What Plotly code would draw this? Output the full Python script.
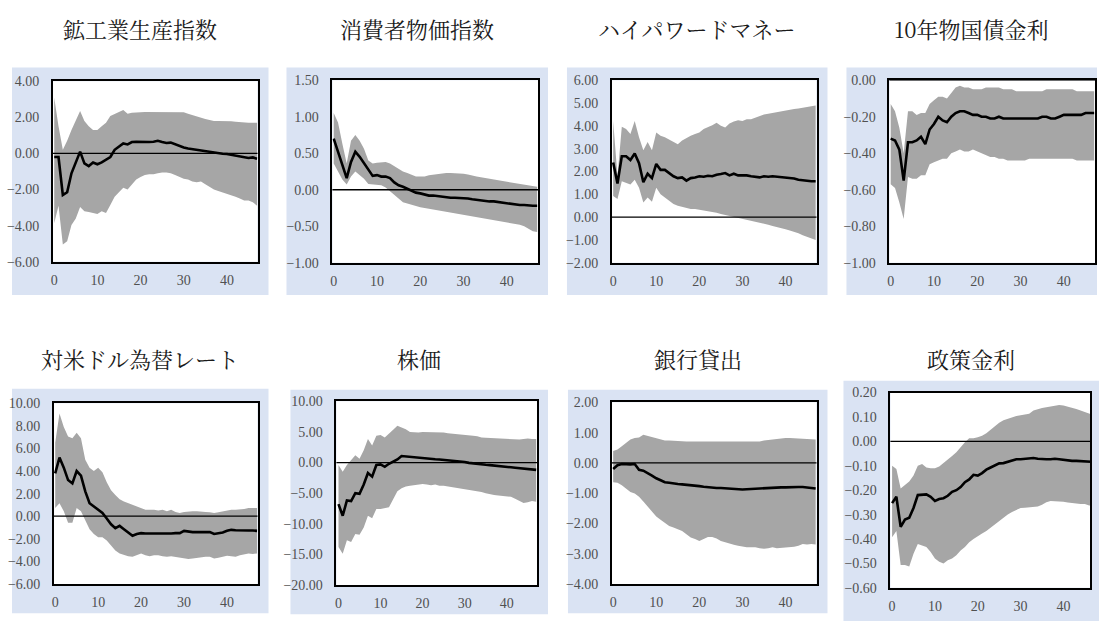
import plotly.graph_objects as go

# Horizon (months after the shock)
horizon = list(range(48))

titles = ["鉱工業生産指数", "消費者物価指数", "ハイパワードマネー", "10年物国債金利",
          "対米ドル為替レート", "株価", "銀行貸出", "政策金利"]

# ---- 鉱工業生産指数 ----
ip_mid = [-0.2, -0.2, -2.3, -2.15, -1.1, -0.55, 0.1, -0.55, -0.7, -0.5, -0.6, -0.5,
          -0.35, -0.2, 0.2, 0.4, 0.55, 0.5, 0.63, 0.65, 0.63, 0.62, 0.63, 0.65,
          0.7, 0.63, 0.58, 0.6, 0.5, 0.4, 0.33, 0.27, 0.23, 0.18, 0.15, 0.12,
          0.1, 0.05, 0.0, -0.02, -0.03, -0.07, -0.1, -0.15, -0.2, -0.25, -0.22, -0.3]
ip_hi = [3.1, 1.5, 0.2, 0.7, 1.3, 1.8, 2.35, 1.8, 1.5, 1.3, 1.3, 1.5,
         1.7, 2.07, 2.2, 2.3, 2.4, 2.2, 2.25, 2.25, 2.28, 2.3, 2.3, 2.3,
         2.3, 2.32, 2.32, 2.3, 2.3, 2.3, 2.28, 2.2, 2.12, 2.05, 1.98, 1.9,
         1.85, 1.8, 1.8, 1.8, 1.8, 1.78, 1.75, 1.72, 1.7, 1.7, 1.7, 1.7]
ip_lo = [-3.87, -2.9, -5.05, -4.86, -3.96, -3.6, -2.97, -3.2, -3.25, -3.3, -3.35, -3.2,
         -3.3, -2.85, -2.4, -2.15, -1.9, -2.0, -1.7, -1.45, -1.3, -1.2, -1.15, -1.15,
         -1.1, -1.05, -1.05, -1.1, -1.2, -1.3, -1.4, -1.45, -1.55, -1.6, -1.55, -1.7,
         -1.85, -2.0, -2.08, -2.15, -2.25, -2.32, -2.4, -2.5, -2.6, -2.6, -2.7, -2.9]

# ---- 消費者物価指数 ----
cpi_mid = [0.70, 0.52, 0.34, 0.16, 0.38, 0.52, 0.45, 0.36, 0.27, 0.19, 0.20, 0.18,
           0.18, 0.16, 0.10, 0.06, 0.04, 0.01, -0.02, -0.04, -0.05, -0.07, -0.08, -0.08,
           -0.09, -0.09, -0.10, -0.11, -0.11, -0.11, -0.11, -0.12, -0.13, -0.14, -0.14, -0.15,
           -0.16, -0.16, -0.17, -0.18, -0.19, -0.20, -0.20, -0.21, -0.21, -0.22, -0.22, -0.22]
cpi_hi = [1.05, 0.92, 0.63, 0.36, 0.67, 0.75, 0.67, 0.56, 0.40, 0.36, 0.37, 0.37,
          0.38, 0.36, 0.32, 0.28, 0.25, 0.23, 0.20, 0.18, 0.18, 0.18, 0.20, 0.21,
          0.22, 0.23, 0.23, 0.23, 0.23, 0.23, 0.22, 0.21, 0.19, 0.18, 0.17, 0.16,
          0.15, 0.14, 0.13, 0.12, 0.11, 0.10, 0.08, 0.07, 0.06, 0.05, 0.04, 0.04]
cpi_lo = [0.36, 0.25, 0.14, 0.07, 0.18, 0.25, 0.20, 0.15, 0.08, 0.07, 0.07, 0.06,
          0.03, -0.02, -0.08, -0.13, -0.17, -0.19, -0.21, -0.23, -0.24, -0.25, -0.26, -0.27,
          -0.29, -0.30, -0.31, -0.32, -0.33, -0.33, -0.34, -0.35, -0.36, -0.37, -0.38, -0.39,
          -0.40, -0.41, -0.42, -0.43, -0.44, -0.45, -0.46, -0.48, -0.50, -0.53, -0.57, -0.58]

# ---- ハイパワードマネー ----
mb_mid = [2.39, 1.47, 2.67, 2.67, 2.50, 2.79, 2.36, 1.53, 1.90, 1.71, 2.33, 2.07,
          2.07, 1.93, 1.79, 1.71, 1.74, 1.60, 1.71, 1.74, 1.79, 1.77, 1.81, 1.79,
          1.86, 1.89, 1.93, 1.83, 1.90, 1.83, 1.83, 1.83, 1.79, 1.77, 1.74, 1.79,
          1.77, 1.79, 1.77, 1.74, 1.74, 1.71, 1.69, 1.64, 1.61, 1.57, 1.57, 1.57]
mb_hi = [4.21, 1.79, 3.96, 3.86, 3.64, 4.21, 3.50, 2.93, 3.29, 2.93, 3.71, 3.57,
         3.50, 3.39, 3.29, 3.19, 3.36, 3.47, 3.57, 3.64, 3.71, 3.86, 3.93, 4.03,
         4.14, 4.00, 3.93, 4.10, 4.19, 4.24, 4.21, 4.29, 4.29, 4.36, 4.43, 4.50,
         4.53, 4.57, 4.60, 4.64, 4.67, 4.71, 4.74, 4.76, 4.79, 4.81, 4.86, 4.89]
mb_lo = [0.93, 0.79, 1.57, 1.50, 1.43, 1.64, 1.29, 0.64, 0.86, 0.67, 1.29, 1.00,
         0.86, 0.71, 0.57, 0.50, 0.46, 0.40, 0.36, 0.36, 0.33, 0.29, 0.26, 0.21,
         0.19, 0.14, 0.10, 0.04, 0.00, -0.03, -0.07, -0.11, -0.14, -0.19, -0.23, -0.29,
         -0.33, -0.39, -0.43, -0.47, -0.53, -0.59, -0.64, -0.71, -0.79, -0.86, -0.93, -1.00]

# ---- 10年物国債金利 ----
jgb_mid = [-0.32, -0.33, -0.38, -0.55, -0.34, -0.34, -0.33, -0.31, -0.35, -0.27, -0.24, -0.20,
           -0.22, -0.23, -0.20, -0.18, -0.17, -0.17, -0.18, -0.19, -0.19, -0.20, -0.20, -0.21,
           -0.21, -0.20, -0.21, -0.21, -0.21, -0.21, -0.21, -0.21, -0.21, -0.21, -0.21, -0.20,
           -0.20, -0.21, -0.21, -0.20, -0.19, -0.19, -0.19, -0.19, -0.19, -0.18, -0.18, -0.18]
jgb_hi = [-0.13, -0.17, -0.26, -0.40, -0.17, -0.17, -0.19, -0.18, -0.18, -0.13, -0.11, -0.09,
          -0.09, -0.10, -0.07, -0.04, -0.03, -0.04, -0.04, -0.05, -0.05, -0.05, -0.04, -0.04,
          -0.04, -0.04, -0.05, -0.05, -0.05, -0.06, -0.06, -0.06, -0.06, -0.06, -0.06, -0.06,
          -0.05, -0.05, -0.05, -0.05, -0.05, -0.05, -0.05, -0.06, -0.06, -0.06, -0.06, -0.06]
jgb_lo = [-0.57, -0.59, -0.67, -0.76, -0.53, -0.54, -0.54, -0.52, -0.52, -0.46, -0.45, -0.44,
          -0.43, -0.43, -0.40, -0.39, -0.38, -0.39, -0.39, -0.38, -0.39, -0.40, -0.41, -0.42,
          -0.42, -0.43, -0.43, -0.44, -0.44, -0.44, -0.44, -0.44, -0.43, -0.43, -0.43, -0.43,
          -0.43, -0.43, -0.43, -0.43, -0.43, -0.43, -0.43, -0.44, -0.44, -0.44, -0.44, -0.44]

# ---- 対米ドル為替レート ----
fx_mid = [3.8, 5.2, 4.3, 3.2, 2.9, 4.0, 3.6, 2.2, 1.15, 0.86, 0.58, 0.29,
          -0.2, -0.72, -1.07, -0.86, -1.15, -1.44, -1.73, -1.58, -1.5, -1.53, -1.53, -1.53,
          -1.53, -1.53, -1.58, -1.53, -1.5, -1.5, -1.3, -1.38, -1.41, -1.41, -1.41, -1.41,
          -1.41, -1.58, -1.53, -1.44, -1.3, -1.21, -1.24, -1.27, -1.27, -1.27, -1.27, -1.3]
fx_hi = [6.5, 9.1, 7.9, 7.06, 6.9, 7.4, 6.9, 5.0, 4.3, 4.0, 4.3, 3.9,
         3.0, 2.3, 1.87, 1.5, 1.3, 1.15, 1.0, 0.86, 0.72, 0.58, 0.58, 0.58,
         0.5, 0.58, 0.43, 0.58, 0.37, 0.29, 0.37, 0.43, 0.43, 0.43, 0.37, 0.37,
         0.34, 0.29, 0.34, 0.43, 0.5, 0.58, 0.58, 0.58, 0.63, 0.72, 0.72, 0.72]
fx_lo = [0.72, 1.15, 0.43, -0.58, -0.58, 0.72, 0.43, -0.43, -1.15, -1.58, -1.87, -1.87,
         -2.16, -2.6, -3.03, -3.3, -3.46, -3.55, -3.6, -3.46, -3.3, -3.46, -3.55, -3.46,
         -3.46, -3.55, -3.6, -3.55, -3.6, -3.69, -3.75, -3.8, -3.75, -3.69, -3.66, -3.6,
         -3.6, -3.75, -3.69, -3.6, -3.5, -3.55, -3.6, -3.46, -3.4, -3.3, -3.35, -3.3]

# ---- 株価 ----
sp_mid = [-6.8, -8.7, -6.2, -6.3, -5.0, -5.1, -3.6, -1.7, -2.3, -0.4, -0.3, -0.7,
          -0.2, 0.1, 0.5, 1.07, 1.0, 0.9, 0.8, 0.75, 0.64, 0.6, 0.6, 0.55,
          0.5, 0.45, 0.37, 0.32, 0.27, 0.2, 0.1, -0.05, -0.16, -0.25, -0.32, -0.37,
          -0.43, -0.48, -0.53, -0.6, -0.7, -0.78, -0.86, -0.93, -1.0, -1.05, -1.1, -1.2]
sp_hi = [-0.4, -1.5, -0.4, 0.4, 1.2, 0.6, 2.0, 3.85, 2.8, 4.4, 4.5, 4.1,
         4.65, 5.35, 6.0, 5.7, 5.45, 5.0, 4.9, 4.9, 5.0, 5.0, 5.0, 4.9,
         5.0, 4.9, 4.8, 4.75, 4.65, 4.6, 4.55, 4.5, 4.4, 4.3, 4.1, 4.05,
         4.0, 3.95, 3.95, 3.85, 3.85, 3.75, 3.7, 3.75, 3.85, 3.95, 3.85, 3.85]
sp_lo = [-13.8, -14.9, -12.7, -13.0, -11.7, -11.8, -10.6, -8.7, -9.1, -7.6, -7.6, -7.5,
         -7.3, -6.0, -4.7, -4.2, -3.9, -3.8, -3.7, -3.6, -3.5, -3.6, -3.7, -3.6,
         -3.8, -3.8, -3.9, -4.0, -4.2, -4.25, -4.3, -4.4, -4.6, -4.7, -4.8, -5.0,
         -5.2, -5.3, -5.4, -5.5, -5.5, -5.6, -5.9, -6.2, -6.6, -6.5, -6.3, -6.4]

# ---- 銀行貸出 ----
bl_mid = [-0.2, -0.08, -0.04, -0.05, -0.05, -0.04, -0.23, -0.26, -0.33, -0.42, -0.51, -0.58,
          -0.64, -0.66, -0.69, -0.7, -0.71, -0.72, -0.73, -0.75, -0.77, -0.79, -0.81, -0.83,
          -0.83, -0.83, -0.84, -0.85, -0.87, -0.89, -0.88, -0.87, -0.86, -0.85, -0.85, -0.84,
          -0.84, -0.83, -0.82, -0.81, -0.81, -0.8, -0.8, -0.8, -0.8, -0.81, -0.82, -0.85]
bl_hi = [0.39, 0.44, 0.55, 0.66, 0.77, 0.82, 0.84, 0.93, 0.89, 0.87, 0.82, 0.77,
         0.74, 0.74, 0.73, 0.71, 0.71, 0.71, 0.71, 0.71, 0.71, 0.71, 0.71, 0.71,
         0.71, 0.71, 0.7, 0.7, 0.7, 0.7, 0.69, 0.69, 0.69, 0.69, 0.71, 0.74,
         0.76, 0.77, 0.79, 0.8, 0.82, 0.82, 0.81, 0.8, 0.79, 0.79, 0.78, 0.77]
bl_lo = [-0.64, -0.66, -0.74, -0.85, -0.96, -1.01, -1.12, -1.28, -1.44, -1.61, -1.77, -1.88,
         -1.98, -2.09, -2.14, -2.2, -2.25, -2.36, -2.47, -2.52, -2.58, -2.52, -2.45, -2.45,
         -2.5, -2.58, -2.63, -2.68, -2.71, -2.74, -2.77, -2.79, -2.79, -2.79, -2.82, -2.84,
         -2.82, -2.79, -2.82, -2.81, -2.79, -2.79, -2.77, -2.74, -2.68, -2.7, -2.68, -2.7]

# ---- 政策金利 ----
pr_mid = [-0.253, -0.227, -0.35, -0.32, -0.313, -0.273, -0.22, -0.217, -0.217, -0.227, -0.244, -0.236,
          -0.233, -0.223, -0.207, -0.2, -0.187, -0.167, -0.156, -0.137, -0.14, -0.13, -0.116, -0.107,
          -0.097, -0.09, -0.089, -0.084, -0.077, -0.073, -0.073, -0.071, -0.067, -0.068, -0.071, -0.073,
          -0.073, -0.073, -0.071, -0.073, -0.076, -0.079, -0.08, -0.08, -0.081, -0.083, -0.084, -0.084]
pr_hi = [-0.1, -0.113, -0.193, -0.177, -0.164, -0.14, -0.1, -0.093, -0.107, -0.11, -0.11, -0.103,
         -0.089, -0.076, -0.06, -0.044, -0.023, -0.004, 0.013, 0.013, 0.017, 0.023, 0.033, 0.047,
         0.063, 0.076, 0.087, 0.093, 0.1, 0.104, 0.107, 0.11, 0.113, 0.127, 0.133, 0.137,
         0.14, 0.143, 0.147, 0.149, 0.147, 0.143, 0.137, 0.133, 0.127, 0.12, 0.111, 0.107]
pr_lo = [-0.393, -0.367, -0.507, -0.507, -0.513, -0.46, -0.42, -0.427, -0.433, -0.453, -0.48, -0.493,
         -0.5, -0.487, -0.48, -0.467, -0.447, -0.433, -0.413, -0.4, -0.387, -0.377, -0.367, -0.353,
         -0.34, -0.327, -0.313, -0.3, -0.289, -0.28, -0.273, -0.272, -0.271, -0.27, -0.267, -0.26,
         -0.249, -0.244, -0.244, -0.244, -0.247, -0.25, -0.253, -0.253, -0.257, -0.257, -0.263, -0.263]

mids = [ip_mid, cpi_mid, mb_mid, jgb_mid, fx_mid, sp_mid, bl_mid, pr_mid]
his = [ip_hi, cpi_hi, mb_hi, jgb_hi, fx_hi, sp_hi, bl_hi, pr_hi]
los = [ip_lo, cpi_lo, mb_lo, jgb_lo, fx_lo, sp_lo, bl_lo, pr_lo]

y_ranges = [[-6, 4], [-1, 1.5], [-2, 6], [-1, 0], [-6, 10], [-20, 10], [-4, 2], [-0.6, 0.2]]
y_dticks = [2, 0.5, 1, 0.2, 2, 5, 1, 0.1]
x_ranges = [[-0.3, 47.1], [-0.3, 47.2], [-0.3, 47.2], [-0.3, 47.2],
            [-0.3, 47.1], [-0.5, 47.2], [-0.3, 47.2], [-0.4, 46.2]]
x_ticks = [0, 10, 20, 30, 40]

W, H = 1099, 629
# pixel boxes: (plot left, right, top, bottom), (frame left, right, top, bottom)
plot_px = [(51, 256, 76, 261), (331, 537, 75, 262), (611, 816, 75, 262), (889, 1095, 75, 262),
           (52, 256, 406, 591), (335, 536, 404, 592), (611, 816, 405, 591), (890, 1090, 395, 595)]
frame_px = [(10, 267, 62, 295), (285, 547, 62, 295), (566, 827, 62, 295), (846, 1097, 62, 295),
            (10, 267, 391, 621), (289, 547, 392, 622), (567, 827, 392, 621), (843, 1099, 383, 629)]
title_y = [22, 22, 22, 22, 360, 360, 360, 360]

BAND = "#a6a6a6"
FRAME = "#dae3f3"
TICK_FONT = dict(family="Liberation Serif, Times New Roman, serif", size=14, color="#505050")

fig = go.Figure()
shapes = []
annotations = []
layout = {}

for i in range(8):
    n = "" if i == 0 else str(i + 1)
    xa, ya = "x" + n, "y" + n
    l, r, t, b = plot_px[i]
    fl, fr, ft, fb = frame_px[i]

    # light blue frame and white plotting area
    shapes.append(dict(type="rect", xref="paper", yref="paper",
                       x0=fl / W, x1=fr / W, y0=1 - fb / H, y1=1 - ft / H,
                       fillcolor=FRAME, line=dict(width=0), layer="below"))
    shapes.append(dict(type="rect", xref="paper", yref="paper",
                       x0=l / W, x1=r / W, y0=1 - b / H, y1=1 - t / H,
                       fillcolor="white", line=dict(width=0), layer="below"))

    # confidence band
    fig.add_trace(go.Scatter(x=horizon, y=his[i], xaxis=xa, yaxis=ya, mode="lines",
                             line=dict(width=0, color=BAND), showlegend=False, hoverinfo="skip"))
    fig.add_trace(go.Scatter(x=horizon, y=los[i], xaxis=xa, yaxis=ya, mode="lines",
                             line=dict(width=0, color=BAND), fill="tonexty", fillcolor=BAND,
                             showlegend=False, hoverinfo="skip"))
    # point estimate
    fig.add_trace(go.Scatter(x=horizon, y=mids[i], xaxis=xa, yaxis=ya, mode="lines",
                             line=dict(width=2.6, color="black"), showlegend=False))

    # zero reference line
    shapes.append(dict(type="line", xref=xa + " domain", yref=ya, x0=0, x1=1, y0=0, y1=0,
                       line=dict(color="black", width=1.3), layer="above"))

    layout["xaxis" + n] = dict(domain=[l / W, r / W], anchor=ya, range=x_ranges[i],
                               tickmode="array", tickvals=x_ticks, ticks="",
                               showgrid=False, zeroline=False, showline=True, mirror=True,
                               linecolor="black", linewidth=1.5, tickfont=TICK_FONT,
                               ticklabelstandoff=5)
    layout["yaxis" + n] = dict(domain=[1 - b / H, 1 - t / H], anchor=xa, range=y_ranges[i],
                               dtick=y_dticks[i], tick0=0, tickformat=".2f", ticks="",
                               showgrid=False, zeroline=False, showline=True, mirror=True,
                               linecolor="black", linewidth=1.5, tickfont=TICK_FONT,
                               ticklabelstandoff=9)

    annotations.append(dict(text=titles[i], xref="paper", yref="paper",
                            x=(fl + fr) / 2 / W, y=1 - title_y[i] / H,
                            xanchor="center", yanchor="middle", showarrow=False,
                            font=dict(family="Noto Serif CJK JP, Noto Sans CJK JP, sans-serif",
                                      size=22, color="#1a1a1a")))

fig.update_layout(width=W, height=H, margin=dict(l=0, r=0, t=0, b=0),
                  paper_bgcolor="white", plot_bgcolor="rgba(0,0,0,0)",
                  shapes=shapes, annotations=annotations, **layout)

fig.write_html("out.html")
